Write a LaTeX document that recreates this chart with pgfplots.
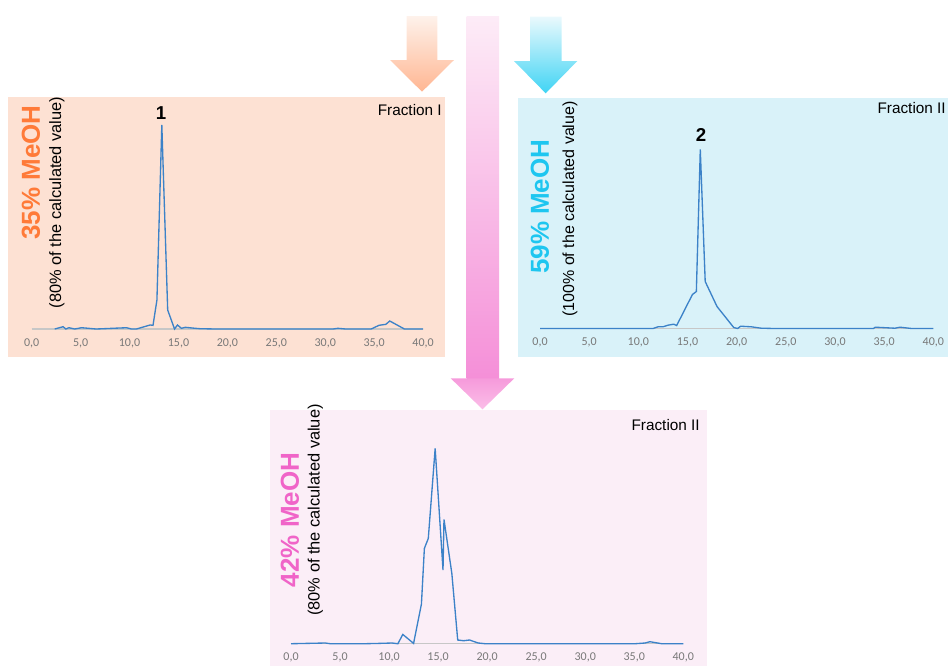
\documentclass[border=0pt]{standalone}
\usepackage{pgfplots}
\pgfplotsset{compat=1.18}
\usepackage{fontspec}
\setmainfont{Liberation Sans}
\newfontfamily\carlito{Carlito}
\definecolor{lineblue}{RGB}{60,130,200}
\definecolor{orangeBG}{RGB}{253,225,211}
\definecolor{blueBG}{RGB}{217,242,249}
\definecolor{pinkBG}{RGB}{251,238,247}
\definecolor{orangeT}{RGB}{255,122,56}
\definecolor{cyanT}{RGB}{30,198,240}
\definecolor{pinkT}{RGB}{240,100,200}
\definecolor{tickgray}{RGB}{120,120,120}
\pgfplotsset{chrom/.style={
  scale only axis, xmin=0, xmax=40, ymin=0, ymax=210,
  height=157.5pt,
  axis x line=bottom, axis y line=none,
  x axis line style={draw=black!22, line width=0.8pt, -},
  xtick={0,5,...,40},
  xticklabels={{0,0},{5,0},{10,0},{15,0},{20,0},{25,0},{30,0},{35,0},{40,0}},
  major tick length=0pt,
  xticklabel style={font=\carlito\fontsize{9}{10}\selectfont, text=tickgray, anchor=center, yshift=-10.5pt},
  clip=false,
  anchor=south west,
}}
\begin{document}
\begin{tikzpicture}[x=0.75pt,y=-0.75pt]
\path[use as bounding box] (0,0) rectangle (948,665);
\clip (0,0) rectangle (948,665);
% panels
\fill[orangeBG] (8,96.7) rectangle (445,357);
\fill[blueBG] (518.3,97.7) rectangle (960,357);
\fill[pinkBG] (270,410) rectangle (707,680);
% arrows
\shade[top color={rgb,255:red,254;green,242;blue,235}, bottom color={rgb,255:red,255;green,182;blue,146}]
  (406.7,16) -- (437.3,16) -- (437.3,60) -- (454,60) -- (422,91.7) -- (390,60) -- (406.7,60) -- cycle;
\shade[top color={rgb,255:red,234;green,249;blue,253}, bottom color={rgb,255:red,64;green,212;blue,244}]
  (530,16.7) -- (561.7,16.7) -- (561.7,61) -- (577.3,61) -- (545.7,93.3) -- (514,61) -- (530,61) -- cycle;
\shade[top color={rgb,255:red,253;green,236;blue,247}, middle color={rgb,255:red,250;green,200;blue,234}, bottom color={rgb,255:red,245;green,143;blue,216}]
  (466.7,16) rectangle (499,378.3);
\shade[top color={rgb,255:red,246;green,154;blue,219}, bottom color={rgb,255:red,251;green,190;blue,232}]
  (450.7,378.3) -- (514.3,378.3) -- (482.5,409.3) -- cycle;

% ---------- panel 1 ----------
\begin{axis}[chrom, width=293.5pt, at={(23.775pt,-246.75pt)}]
\addplot[lineblue, line width=1pt] coordinates {
(2.35,0) (3.2,2.3) (3.5,0) (3.8,1.3) (4.4,0) (5.1,1.3) (6.6,0) (9.7,1.3) (10.2,0) (10.7,0)
(12.1,4) (12.4,3.7) (12.8,29) (13.3,204) (13.9,19) (14.6,0) (14.9,4) (15.3,0.7) (15.7,1.7)
(16.4,1) (17.2,0.3) (18.9,0) (30.8,0) (31.3,0.7) (32.1,0) (34.7,0) (35.5,3.7) (36.2,4.7)
(36.6,8) (38.1,0) (40,0)};
\end{axis}
% ---------- panel 2 ----------
\begin{axis}[chrom, width=295pt, at={(405pt,-246.375pt)}]
\addplot[lineblue, line width=1pt] coordinates {
(0,0) (11.5,0) (12.0,1.7) (12.5,1.7) (13.0,3.3) (13.6,4.3) (13.9,3) (15.5,34) (15.9,37)
(16.3,179) (16.8,47) (18.0,22) (19.7,1) (20.1,0) (20.4,2.3) (21.5,1.7) (22.5,0.3) (23.9,0)
(33.9,0) (34.1,1.3) (36.1,0.3) (36.6,1.3) (37.8,0) (40,0)};
\end{axis}
% ---------- panel 3 ----------
\begin{axis}[chrom, width=294.2pt, at={(218.25pt,-482.775pt)}]
\addplot[lineblue, line width=1pt] coordinates {
(0,0) (3.5,0.7) (4.0,0) (7.5,0) (8.9,0.3) (10.3,0.7) (10.9,0) (11.4,9.3) (12.5,0.3)
(13.3,39.7) (13.6,95.3) (14.0,105.3) (14.7,195.3) (15.5,73.7) (15.6,124.3) (16.4,70.3)
(17.0,3.7) (17.6,3) (18.2,3.7) (19.1,0.7) (19.8,0) (35.1,0) (36.1,0.7) (36.6,2) (37.8,0) (40,0)};
\end{axis}

% texts
\node[rotate=90, inner sep=0, text=orangeT, font=\fontsize{19.5}{22}\selectfont\bfseries] at (31,172.5) {35\% MeOH};
\node[rotate=90, inner sep=0, font=\fontsize{12.3}{14}\selectfont] at (57,202.5) {(80\% of the calculated value)};
\node[anchor=east, inner sep=0, font=\fontsize{11.5}{13}\selectfont] at (442,110) {Fraction I};
\node[inner sep=0, font=\fontsize{14}{16}\selectfont\bfseries] at (161,113.3) {1};

\node[rotate=90, inner sep=0, text=cyanT, font=\fontsize{19.5}{22}\selectfont\bfseries] at (540,206.7) {59\% MeOH};
\node[rotate=90, inner sep=0, font=\fontsize{12}{14}\selectfont] at (570,209) {(100\% of the calculated value)};
\node[anchor=east, inner sep=0, font=\fontsize{11.5}{13}\selectfont] at (946,108.3) {Fraction II};
\node[inner sep=0, font=\fontsize{14}{16}\selectfont\bfseries] at (701,135) {2};

\node[rotate=90, inner sep=0, text=pinkT, font=\fontsize{19.5}{22}\selectfont\bfseries] at (290,520) {42\% MeOH};
\node[rotate=90, inner sep=0, font=\fontsize{12.3}{14}\selectfont] at (315.5,510) {(80\% of the calculated value)};
\node[anchor=east, inner sep=0, font=\fontsize{11.5}{13}\selectfont] at (700,425) {Fraction II};
\end{tikzpicture}
\end{document}
